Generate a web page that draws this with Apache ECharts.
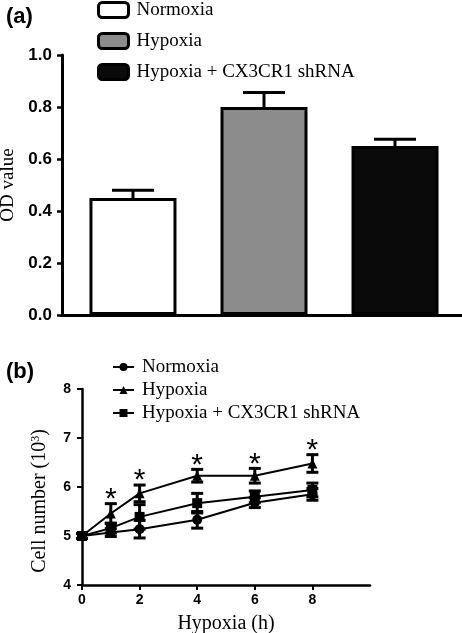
<!DOCTYPE html>
<html><head><meta charset="utf-8">
<script src="https://cdn.jsdelivr.net/npm/echarts@6/dist/echarts.min.js"></script>
<style>html,body{margin:0;padding:0;background:#fff}#c{width:462px;height:633px}</style>
</head><body><div id="c"></div>
<script>
// Panel (a)
const groupsA = ['Normoxia', 'Hypoxia', 'Hypoxia + CX3CR1 shRNA'];
const odMean = [0.45, 0.80, 0.65];
const odErr = [0.03, 0.056, 0.026];
const yTicksA = [0, 0.2, 0.4, 0.6, 0.8, 1.0];
// Panel (b)
const hours = [0, 1, 2, 4, 6, 8];
const xTicksB = [0, 2, 4, 6, 8];
const normMean = [5.0, 5.07, 5.14, 5.33, 5.68, 5.85];
const normErr = [0.05, 0.08, 0.18, 0.17, 0.1, 0.12];
const hypMean = [5.0, 5.46, 5.87, 6.23, 6.23, 6.48];
const hypErr = [0.05, 0.2, 0.17, 0.13, 0.15, 0.18];
const shMean = [5.0, 5.16, 5.39, 5.67, 5.80, 5.94];
const shErr = [0.05, 0.1, 0.25, 0.2, 0.12, 0.14];
const hypSig = ['', '*', '*', '*', '*', '*'];

const serif = "'Liberation Serif','Times New Roman',serif";
const sans = "'Liberation Sans',Arial,sans-serif";
const fills = ['#ffffff', '#8c8c8c', '#0a0a0a'];
const BAR_W = 87, BAR_STEP = 131;

const chart = echarts.init(document.getElementById('c'), null, {renderer: 'canvas'});

const barSeries = groupsA.map((g, i) => ({
  type: 'bar', name: g, xAxisIndex: 0, yAxisIndex: 0,
  data: [odMean[i]], barWidth: BAR_W, barGap: (44 / 87 * 100).toFixed(1) + '%',
  itemStyle: {color: fills[i], borderColor: '#000', borderWidth: 3},
  emphasis: {disabled: true}, silent: true
}));

const errA = {
  type: 'custom', xAxisIndex: 0, yAxisIndex: 0, silent: true, z: 5,
  data: odMean.map((m, i) => [0, m, odErr[i], i]),
  encode: {x: 0, y: 1},
  renderItem: function (params, api) {
    const i = api.value(3);
    const base = api.coord([0, api.value(1)]);
    const top = api.coord([0, api.value(1) + api.value(2)]);
    const x = base[0] + (i - 1) * BAR_STEP;
    const hw = 21;
    const st = {stroke: '#000', lineWidth: 3};
    return {type: 'group', children: [
      {type: 'line', shape: {x1: x, y1: base[1], x2: x, y2: top[1]}, style: st},
      {type: 'line', shape: {x1: x - hw, y1: top[1], x2: x + hw, y2: top[1]}, style: st}
    ]};
  }
};

function errB(mean, err, sig) {
  return {
    type: 'custom', xAxisIndex: 1, yAxisIndex: 1, silent: true, z: 4,
    data: hours.map((h, i) => [h, mean[i], err[i]]),
    encode: {x: 0, y: 1},
    renderItem: function (params, api) {
      const x = api.value(0), m = api.value(1), e = api.value(2);
      const s = sig ? sig[params.dataIndex] : '';
      const lo = api.coord([x, m - e]), hi = api.coord([x, m + e]);
      const hw = 6;
      const st = {stroke: '#000', lineWidth: 3};
      const ch = [
        {type: 'line', shape: {x1: lo[0], y1: lo[1], x2: hi[0], y2: hi[1]}, style: st},
        {type: 'line', shape: {x1: lo[0] - hw, y1: lo[1], x2: lo[0] + hw, y2: lo[1]}, style: st},
        {type: 'line', shape: {x1: hi[0] - hw, y1: hi[1], x2: hi[0] + hw, y2: hi[1]}, style: st}
      ];
      if (s) ch.push({type: 'text', style: {text: s, x: hi[0], y: hi[1] - 4, align: 'center', verticalAlign: 'middle', font: "30px " + sans, fill: '#000'}});
      return {type: 'group', children: ch};
    }
  };
}

function lineB(name, mean, sym) {
  return {
    type: 'line', name: name, xAxisIndex: 1, yAxisIndex: 1,
    data: hours.map((h, i) => [h, mean[i]]),
    symbol: sym, symbolSize: 10, showAllSymbol: true,
    lineStyle: {color: '#000', width: 2}, itemStyle: {color: '#000'},
    emphasis: {disabled: true}, silent: true, z: 3
  };
}

const option = {
  animation: false,
  backgroundColor: '#fff',
  graphic: [
    {type: 'text', left: 6, top: 6, style: {text: '(a)', font: "bold 22px " + sans, fill: '#000'}},
    {type: 'text', left: 6, top: 361, style: {text: '(b)', font: "bold 22px " + sans, fill: '#000'}}
  ],
  legend: [
    {
      data: groupsA, orient: 'vertical', left: 97, top: 0, padding: 0,
      itemWidth: 30, itemHeight: 15, itemGap: 11, icon: 'roundRect',
      itemStyle: {borderColor: '#000', borderWidth: 3},
      textStyle: {fontFamily: serif, fontSize: 19, color: '#000', lineHeight: 20, padding: [0, 0, 0, 3]},
      selectedMode: false
    },
    {
      data: ['Normoxia', 'Hypoxia', 'Hypoxia + CX3CR1 shRNA'].map(n => n + ' '),
      orient: 'vertical', left: 112, top: 357, padding: 0,
      itemWidth: 21, itemHeight: 10, itemGap: 3,
      textStyle: {fontFamily: serif, fontSize: 19, color: '#000', lineHeight: 20, padding: [0, 0, 0, 3]},
      selectedMode: false
    }
  ],
  grid: [
    {left: 62, top: 55, width: 404, height: 260, outerBoundsMode: 'none', containLabel: false},
    {left: 82, top: 389, width: 288, height: 196, outerBoundsMode: 'none', containLabel: false}
  ],
  xAxis: [
    {
      type: 'category', gridIndex: 0, data: [''],
      axisLine: {lineStyle: {color: '#000', width: 3}},
      axisTick: {alignWithLabel: true, length: 7, lineStyle: {color: '#000', width: 2}},
      axisLabel: {show: false}
    },
    {
      type: 'value', gridIndex: 1, min: 0, max: 10, interval: 2,
      name: 'Hypoxia (h)', nameLocation: 'middle', nameGap: 29,
      nameTextStyle: {fontFamily: serif, fontSize: 20, color: '#000'},
      axisLine: {lineStyle: {color: '#000', width: 2.5}},
      axisTick: {show: true, length: 5, lineStyle: {color: '#000', width: 2}, customValues: xTicksB},
      axisLabel: {fontFamily: sans, fontWeight: 'bold', fontSize: 14, color: '#000', margin: 8, customValues: xTicksB},
      splitLine: {show: false}
    }
  ],
  yAxis: [
    {
      type: 'value', gridIndex: 0, min: 0, max: 1, interval: 0.2,
      name: 'OD value', nameLocation: 'middle', nameGap: 43,
      nameTextStyle: {fontFamily: serif, fontSize: 19, color: '#000'},
      axisLine: {show: true, lineStyle: {color: '#000', width: 3}},
      axisTick: {show: true, length: 5, lineStyle: {color: '#000', width: 2.5}},
      axisLabel: {fontFamily: sans, fontWeight: 'bold', fontSize: 17, color: '#000', margin: 10,
        customValues: yTicksA, formatter: v => v.toFixed(1)},
      splitLine: {show: false}
    },
    {
      type: 'value', gridIndex: 1, min: 4, max: 8, interval: 1,
      name: 'Cell number (10{sup|3})', nameLocation: 'middle', nameGap: 32,
      nameTextStyle: {fontFamily: serif, fontSize: 20, color: '#000', padding: [0, 28, 0, 0],
        rich: {sup: {fontFamily: serif, fontSize: 12, verticalAlign: 'top', color: '#000', padding: [0, 0, 8, 0]}}},
      axisLine: {show: true, lineStyle: {color: '#000', width: 2.5}},
      axisTick: {show: true, length: 5, lineStyle: {color: '#000', width: 2}},
      axisLabel: {fontFamily: sans, fontWeight: 'bold', fontSize: 14, color: '#000', margin: 11},
      splitLine: {show: false}
    }
  ],
  series: [
    ...barSeries,
    errA,
    lineB('Normoxia ', normMean, 'circle'),
    lineB('Hypoxia ', hypMean, 'triangle'),
    lineB('Hypoxia + CX3CR1 shRNA ', shMean, 'rect'),
    errB(normMean, normErr),
    errB(hypMean, hypErr, hypSig),
    errB(shMean, shErr)
  ]
};
chart.setOption(option);
</script>
</body></html>
